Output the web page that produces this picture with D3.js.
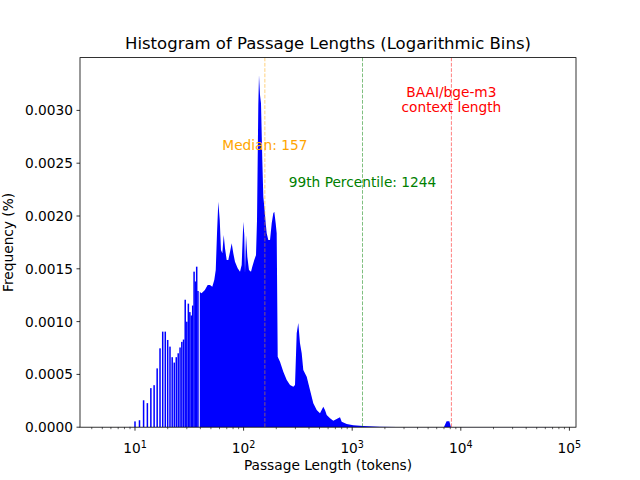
<!DOCTYPE html>
<html><head><meta charset="utf-8">
<script src="https://cdn.jsdelivr.net/npm/d3@7"></script>
<style>body{margin:0;background:#fff} svg{display:block} text{font-family:"DejaVu Sans",sans-serif;fill:#000}</style>
</head><body><svg id="c" width="640" height="480"></svg>
<script>
// ---- data ----
const spikeLengths = [5,6,7,8,9,10,11,12,13,14,15,16,17,18,19,20,21,22,23,24,25,26,27,28,29,30,31,32,33,34,35,36,37,38];
const spikeFreq = [0.000002,0.000002,0.000002,0.000002,0.000003,0.000055,0.000066,0.000255,0.000228,0.000370,0.000398,0.000557,0.000747,0.000905,0.000905,0.000826,0.000763,0.000663,0.000612,0.000663,0.000700,0.000755,0.000808,0.000830,0.001207,0.000999,0.001170,0.001090,0.001058,0.001152,0.001473,0.001380,0.001520,0.001290];
const curveLengths = [39.5,41,44,46.7,49,51.5,53.7,55.4,56.9,58.5,60.3,61.9,63.7,65.6,67.4,69.9,72.3,75,77.7,80.4,83.3,88.2,92.7,96,99.4,101.5,103,105.2,108.2,112.1,117,120.2,125.4,130.1,132.9,134.5,136.6,138.6,141.6,144.6,148.7,151.9,155.1,159.8,163.2,168.9,175.1,181.5,187.7,191.7,197.5,201.7,206.1,216.4,232.1,249.5,267.6,286.9,297.4,308.3,318.9,330.6,342.8,354.6,381.1,408.8,438.4,471.1,505.1,541.8,561.6,582.3,624.6,669.9,772.1,800.4,890.1,1023.6,1265.6,1803,2570,4210,7000,7400,7840,8100,20000,70630];
const curveFreq = [0.00128,0.001268,0.0013,0.001347,0.001347,0.00133,0.001394,0.001489,0.001836,0.002135,0.001962,0.001678,0.001647,0.00182,0.001694,0.001583,0.001583,0.001662,0.001742,0.001647,0.001567,0.001505,0.001473,0.001536,0.001946,0.00182,0.00146,0.00182,0.001615,0.001489,0.001473,0.00152,0.001583,0.001631,0.001962,0.00245,0.00305,0.003335,0.003146,0.003067,0.00253,0.002183,0.002088,0.001931,0.001836,0.001773,0.001773,0.001931,0.002026,0.002041,0.001931,0.001836,0.000668,0.00062,0.000526,0.000447,0.0004,0.000384,0.0004,0.000889,0.000987,0.000795,0.0007,0.000542,0.000478,0.000352,0.000226,0.000163,0.000132,0.000194,0.000163,0.000116,0.000084,0.0000616,0.0000938,0.000052,0.00003,0.000018,0.0000114,0.0000047,0.000003,0.000002,0.000003,0.000057,0.000057,0.000002,0.000002,0.000002];
const refValues = [157, 1244, 8192];
const refColors = ["#ffa500", "#008000", "#ff0000"];
const yTicks = [0,0.0005,0.001,0.0015,0.002,0.0025,0.003];
const xTickExps = [1,2,3,4,5];
const titleText = "Histogram of Passage Lengths (Logarithmic Bins)";
const xLabelText = "Passage Length (tokens)";
const yLabelText = "Frequency (%)";

// ---- layout ----
const svg = d3.select("#c");
const L = 80, R = 576, T = 57.6, B = 427.2;
const x = d3.scaleLog().domain([3.116, 115000]).range([L, R]);
const y = d3.scaleLinear().domain([0, 0.0035]).range([B, T]);
const binLogW = 0.0139;

const clip = svg.append("defs").append("clipPath").attr("id","pc");
clip.append("rect").attr("x",L).attr("y",T).attr("width",R-L).attr("height",B-T);
const plot = svg.append("g").attr("clip-path","url(#pc)");

// spikes
plot.selectAll("rect.sp").data(spikeLengths.map((n,i)=>({n, v:spikeFreq[i]})))
  .join("rect").attr("class","sp")
  .attr("x", d => x(d.n / Math.pow(10, binLogW/2)))
  .attr("width", d => x(d.n * Math.pow(10, binLogW/2)) - x(d.n / Math.pow(10, binLogW/2)))
  .attr("y", d => y(d.v)).attr("height", d => y(0) - y(d.v))
  .attr("fill", "#0000ff");

// continuous part
const cdata = curveLengths.map((n,i)=>({n, v:curveFreq[i]}));
plot.append("path").datum(cdata)
  .attr("d", d3.area().x(d=>x(d.n)).y0(y(0)).y1(d=>y(d.v)))
  .attr("fill","#0000ff");

// reference lines
refValues.forEach((v,i)=>{
  plot.append("line").attr("x1",x(v)).attr("x2",x(v)).attr("y1",T).attr("y2",B)
    .attr("stroke",refColors[i]).attr("stroke-opacity",0.5).attr("stroke-width",1)
    .attr("stroke-dasharray","3.7,1.6");
});

// annotations
const fs = 13.73;
svg.append("text").attr("x",x(refValues[0])).attr("y",y(0.002625)).attr("text-anchor","middle")
  .style("font-size",fs+"px").style("fill",refColors[0]).text("Median: " + refValues[0]);
svg.append("text").attr("x",x(refValues[1])).attr("y",y(0.002275)).attr("text-anchor","middle")
  .style("font-size",fs+"px").style("fill",refColors[1]).text("99th Percentile: " + refValues[1]);
const ctx = svg.append("text").attr("x",x(refValues[2])).attr("y",y(0.003127)).attr("text-anchor","middle")
  .style("font-size",fs+"px").style("fill",refColors[2]);
ctx.append("tspan").attr("x",x(refValues[2])).text("BAAI/bge-m3");
ctx.append("tspan").attr("x",x(refValues[2])).attr("dy",15.5).text("context length");

// axes frame
svg.append("rect").attr("x",L).attr("y",T).attr("width",R-L).attr("height",B-T)
  .attr("fill","none").attr("stroke","#000").attr("stroke-width",0.8);

// y ticks
yTicks.forEach(t=>{
  const yy = y(t);
  svg.append("line").attr("x1",L-3.5).attr("x2",L).attr("y1",yy).attr("y2",yy).attr("stroke","#000").attr("stroke-width",0.8);
  svg.append("text").attr("x",L-7).attr("y",yy+4.9).attr("text-anchor","end").style("font-size",fs+"px").text(d3.format(".4f")(t));
});

// x ticks (major + minor)
xTickExps.forEach(e=>{
  const xx = x(Math.pow(10,e));
  svg.append("line").attr("x1",xx).attr("x2",xx).attr("y1",B).attr("y2",B+3.5).attr("stroke","#000").attr("stroke-width",0.8);
  const t = svg.append("text").attr("x",xx).attr("y",453).attr("text-anchor","middle").style("font-size",fs+"px");
  t.append("tspan").text("10");
  t.append("tspan").attr("dy",-5.5).style("font-size",(fs*0.7)+"px").text(String(e));
});
const [d0,d1] = x.domain();
for (let e = 0; e <= 5; e++) {
  for (let k = 2; k <= 9; k++) {
    const v = k*Math.pow(10,e);
    if (v < d0 || v > d1) continue;
    const xx = x(v);
    svg.append("line").attr("x1",xx).attr("x2",xx).attr("y1",B).attr("y2",B+2).attr("stroke","#000").attr("stroke-width",0.6);
  }
}

// labels
svg.append("text").attr("x",(L+R)/2).attr("y",49).attr("text-anchor","middle").style("font-size","16.5px").text(titleText);
svg.append("text").attr("x",(L+R)/2).attr("y",470).attr("text-anchor","middle").style("font-size",fs+"px").text(xLabelText);
svg.append("text").attr("transform",`translate(13,${(T+B)/2}) rotate(-90)`).attr("text-anchor","middle").style("font-size",fs+"px").text(yLabelText);
</script></body></html>
